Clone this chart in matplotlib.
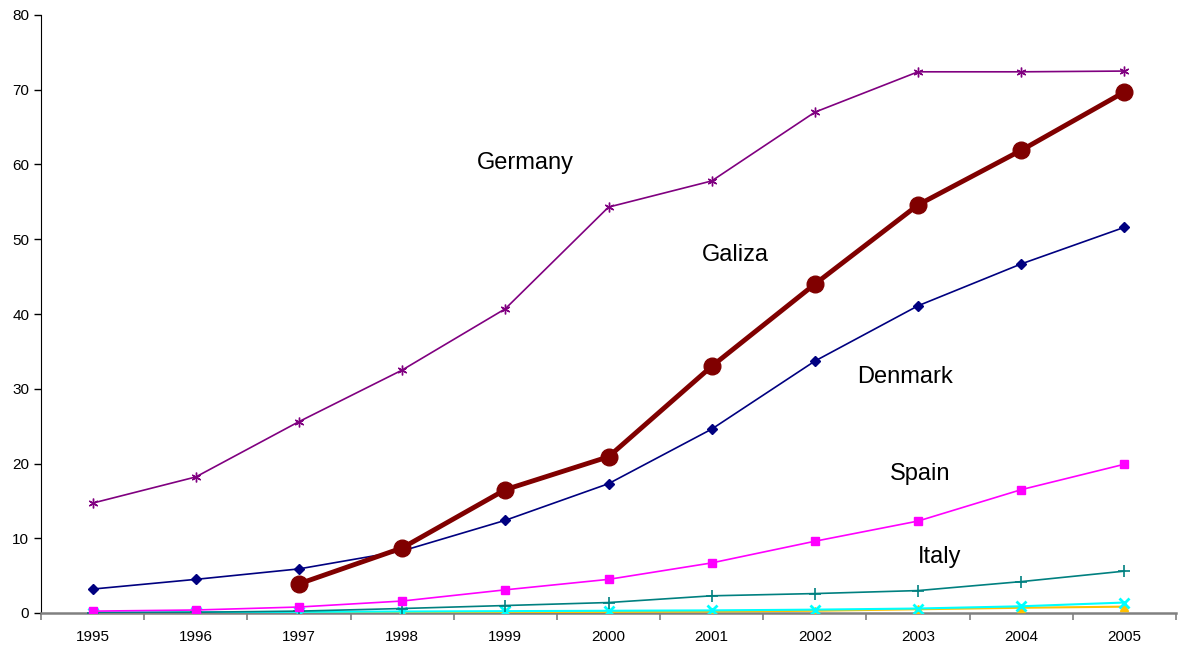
import matplotlib
matplotlib.use("Agg")
import matplotlib.pyplot as plt
import numpy as np

years = ["1995", "1996", "1997", "1998", "1999", "2000", "2001", "2002", "2003", "2004", "2005"]
germany = [14.7, 18.2, 25.6, 32.5, 40.7, 54.3, 57.8, 67.0, 72.4, 72.4, 72.5]
galiza = [None, None, 3.9, 8.7, 16.5, 20.9, 33.0, 44.0, 54.6, 61.9, 69.7]
denmark = [3.2, 4.5, 5.9, 8.3, 12.4, 17.3, 24.6, 33.7, 41.1, 46.7, 51.6]
spain = [0.25, 0.4, 0.8, 1.6, 3.1, 4.5, 6.7, 9.6, 12.3, 16.5, 19.9]
italy = [0.03, 0.1, 0.25, 0.6, 1.0, 1.4, 2.3, 2.6, 3.0, 4.2, 5.6]
other1 = [0.05, 0.1, 0.15, 0.2, 0.25, 0.3, 0.35, 0.45, 0.6, 0.9, 1.4]
other2 = [0.0, 0.02, 0.05, 0.08, 0.1, 0.15, 0.2, 0.3, 0.5, 0.7, 0.85]

plt.rcParams['font.family'] = ['Liberation Sans', 'DejaVu Sans']
fig = plt.figure(figsize=(11.81, 6.51), dpi=100)
ax = fig.add_axes([41/1181, 1-613/651, (1176-41)/1181, (613-15)/651])

x = np.arange(len(years))
gx = np.array([i for i, v in enumerate(galiza) if v is not None])
gy = np.array([v for v in galiza if v is not None])

ax.plot(x, other2, color='#FFC000', marker='^', ms=6, lw=1.5, zorder=3)
ax.plot(x, other1, color='#00FFFF', marker='x', ms=7, mew=2, lw=1.5, zorder=3)
ax.plot(x, italy, color='#008080', marker='+', ms=8, mew=1.2, lw=1.2, zorder=3)
ax.plot(x, spain, color='#FF00FF', marker='s', ms=6, lw=1.2, zorder=4)
ax.plot(x, denmark, color='#000080', marker='D', ms=5, lw=1.2, zorder=4)
ax.plot(x, germany, color='#800080', marker=(6, 2, 0), ms=7, mew=1.0, lw=1.2, zorder=4)
ax.plot(gx, gy, color='#800000', marker='o', ms=12, lw=3.5, zorder=5)

ax.set_xlim(-0.5, len(years) - 0.5)
ax.set_ylim(0, 80)
ax.set_yticks(np.arange(0, 81, 10))
ax.set_xticks(x)
ax.set_xticklabels(years, fontsize=11)
ax.set_xticks(np.arange(-0.5, len(years), 1), minor=True)
ax.tick_params(axis='x', which='major', length=0, pad=12)
ax.tick_params(axis='x', which='minor', length=5, direction='out', color='#808080', width=1.2)
ax.tick_params(axis='y', length=5, direction='out', labelsize=11, width=1)
for s in ['top', 'right']:
    ax.spines[s].set_visible(False)
ax.spines['bottom'].set_color('#808080')
ax.spines['bottom'].set_linewidth(1.8)
ax.spines['left'].set_color('black')

labels = [("Germany", 4.19, 60.2), ("Galiza", 6.23, 47.9), ("Denmark", 7.87, 31.6),
          ("Spain", 8.02, 18.6), ("Italy", 8.21, 7.5)]
for t, lx, ly in labels:
    ax.text(lx, ly, t, fontsize=17, ha='center', va='center')

fig.savefig("out.png", dpi=100)
